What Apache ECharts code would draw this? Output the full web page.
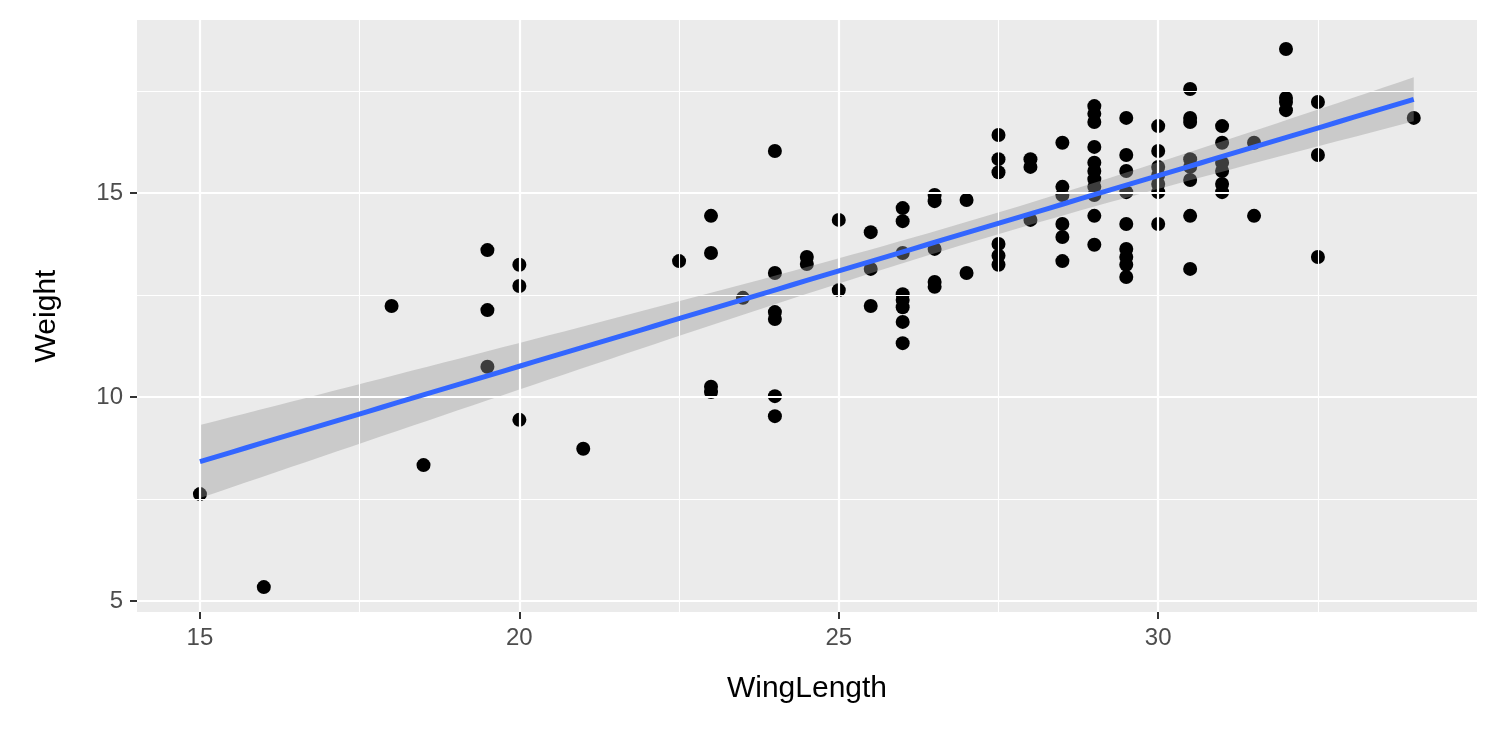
<!DOCTYPE html>
<html><head><meta charset="utf-8">
<script src="https://cdn.jsdelivr.net/npm/echarts@6/dist/echarts.min.js"></script>
<style>html,body{margin:0;padding:0;background:#fff}#c{width:1500px;height:750px}</style>
</head><body><div id="c"></div>
<script>
const wingLength = [15,16,18,18.5,19.5,19.5,19.5,20,20,20,21,22.5,23,23,23,23,23.5,24,24,24,24,24,24,24.5,24.5,25,25,25.5,25.5,25.5,
26,26,26,26,26,26,26,26,26.5,26.5,26.5,26.5,26.5,27,27,27.5,27.5,27.5,27.5,27.5,27.5,28,28,28,28.5,28.5,28.5,28.5,28.5,28.5,
29,29,29,29,29,29,29,29,29,29,29,29.5,29.5,29.5,29.5,29.5,29.5,29.5,29.5,29.5,30,30,30,30,30,30,30,
30.5,30.5,30.5,30.5,30.5,30.5,30.5,30.5,31,31,31,31,31,31,31.5,31.5,32,32,32,32,32.5,32.5,32.5,34];
const weight = [7.62,5.34,12.23,8.33,13.6,12.13,10.74,13.24,12.72,9.44,8.73,13.33,14.44,13.53,10.25,10.12,12.43,16.03,13.04,12.08,11.91,10.02,9.53,13.43,13.26,14.34,12.62,14.04,13.14,12.23,
14.63,14.31,13.53,12.52,12.38,12.2,11.84,11.32,14.95,14.8,13.63,12.82,12.7,14.83,13.04,16.42,15.83,15.51,13.75,13.46,13.24,15.83,15.64,14.34,16.23,15.15,14.95,14.24,13.92,13.33,
17.13,16.94,16.74,16.13,15.74,15.54,15.34,15.15,14.95,14.44,13.73,16.84,15.93,15.54,15.02,14.24,13.63,13.43,13.24,12.94,16.64,16.03,15.64,15.44,15.22,15.02,14.24,
17.55,16.84,16.74,15.83,15.64,15.32,14.44,13.14,16.64,16.23,15.74,15.54,15.22,15.02,16.23,14.44,18.53,17.33,17.23,17.03,17.23,15.93,13.43,16.84];
const xTicks = [15,20,25,30];
const yTicks = [5,10,15];
const xMinor = [17.5,22.5,27.5,32.5];
const yMinor = [7.5,12.5,17.5];

// linear fit with 95% CI (geom_smooth method = lm)
const n = wingLength.length;
const mx = wingLength.reduce((a,b)=>a+b,0)/n, my = weight.reduce((a,b)=>a+b,0)/n;
let sxx=0,sxy=0; for(let i=0;i<n;i++){sxx+=(wingLength[i]-mx)**2; sxy+=(wingLength[i]-mx)*(weight[i]-my);}
const b1=sxy/sxx, b0=my-b1*mx;
let sse=0; for(let i=0;i<n;i++){sse+=(weight[i]-b0-b1*wingLength[i])**2;}
const s=Math.sqrt(sse/(n-2)), t=1.98;
const xmin=Math.min(...wingLength), xmax=Math.max(...wingLength);
const fit=[], bandData=[];
for(let k=0;k<=80;k++){const x=xmin+(xmax-xmin)*k/80; const y=b0+b1*x;
  const se=s*Math.sqrt(1/n+(x-mx)**2/sxx); fit.push([x,y]); bandData.push([x,y-t*se,y+t*se]);}

const grid = [];
xTicks.forEach(v=>grid.push({xAxis:v,lineStyle:{width:2.2}}));
xMinor.forEach(v=>grid.push({xAxis:v,lineStyle:{width:1.1}}));
yTicks.forEach(v=>grid.push({yAxis:v,lineStyle:{width:2.2}}));
yMinor.forEach(v=>grid.push({yAxis:v,lineStyle:{width:1.1}}));

const axisCommon = {
  axisLine:{show:false}, splitLine:{show:false},
  axisTick:{show:true,length:7,lineStyle:{color:'#333',width:2}},
  axisLabel:{color:'#4d4d4d',fontSize:24,fontFamily:'Liberation Sans, Arial'},
  nameTextStyle:{color:'#000',fontSize:30,fontFamily:'Liberation Sans, Arial'}
};
const chart = echarts.init(document.getElementById('c'));
chart.setOption({
  animation:false,
  grid:{left:137,right:23,top:20,bottom:138,show:true,backgroundColor:'#ebebeb',borderWidth:0},
  xAxis:Object.assign({}, axisCommon,{type:'value',min:14.015,max:34.99,name:'WingLength',nameLocation:'middle',nameGap:62,
    axisTick:Object.assign({},axisCommon.axisTick,{customValues:xTicks}),
    axisLabel:Object.assign({},axisCommon.axisLabel,{customValues:xTicks,margin:14})}),
  yAxis:Object.assign({}, axisCommon,{type:'value',min:4.73,max:19.24,name:'Weight',nameLocation:'middle',nameGap:75,
    axisTick:Object.assign({},axisCommon.axisTick,{customValues:yTicks}),
    axisLabel:Object.assign({},axisCommon.axisLabel,{customValues:yTicks,margin:14})}),
  series:[
    {type:'line',data:[],markLine:{silent:true,symbol:'none',label:{show:false},lineStyle:{color:'#fff',type:'solid'},data:grid}},
    {type:'scatter',data:wingLength.map((x,i)=>[x,weight[i]]),symbolSize:14,itemStyle:{color:'#000',opacity:1},z:3},
    {type:'custom',z:4,data:[0],silent:true,
      renderItem:function(params,api){
        const pts=bandData.map(d=>api.coord([d[0],d[2]]));
        for(let i=bandData.length-1;i>=0;i--) pts.push(api.coord([bandData[i][0],bandData[i][1]]));
        return {type:'polygon',shape:{points:pts},style:{fill:'rgba(153,153,153,0.4)'}};
      }},
    {type:'line',data:fit,symbol:'none',lineStyle:{color:'#3366FF',width:5},z:5}
  ]
});
</script></body></html>
